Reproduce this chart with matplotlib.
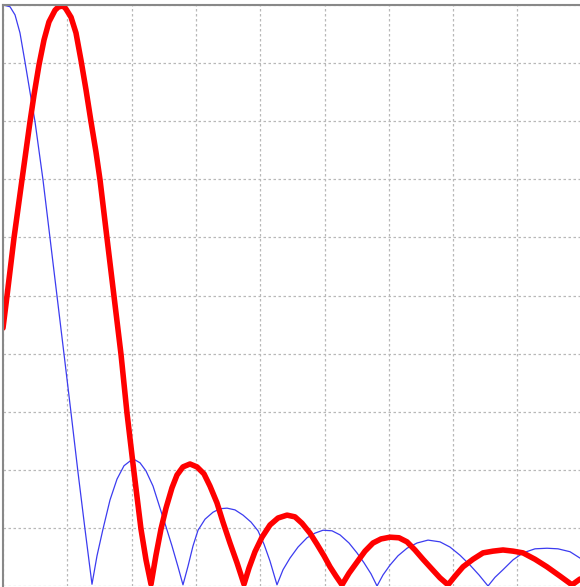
import matplotlib
matplotlib.use("Agg")
import matplotlib.pyplot as plt

# blue curve (thin)
blue_x = [0.000, 0.109, 0.187, 0.264, 0.342, 0.420, 0.498, 0.622, 0.731, 0.840, 0.949, 1.058, 1.166, 1.275, 1.384,
          1.462, 1.555, 1.664, 1.773, 1.882, 2.022, 2.131, 2.224, 2.333, 2.442, 2.535, 2.628, 2.722, 2.799,
          2.877, 2.955, 3.033, 3.142, 3.266, 3.375, 3.484, 3.608, 3.733, 3.857, 3.966, 4.059, 4.152, 4.261,
          4.355, 4.463, 4.588, 4.728, 4.852, 4.977, 5.117, 5.241, 5.381, 5.505, 5.614, 5.723, 5.817,
          5.910, 6.019, 6.143, 6.283, 6.439, 6.610, 6.796, 6.952, 7.107, 7.263, 7.403, 7.543,
          7.652, 7.776, 7.932, 8.087, 8.274, 8.460, 8.631, 8.818, 8.974]
blue_y = [1.000, 0.997, 0.983, 0.952, 0.902, 0.850, 0.799, 0.699, 0.599, 0.499, 0.399, 0.298, 0.196, 0.098, 0.003,
          0.052, 0.098, 0.148, 0.184, 0.207, 0.219, 0.212, 0.198, 0.172, 0.134, 0.102, 0.069, 0.033, 0.002,
          0.034, 0.069, 0.096, 0.115, 0.127, 0.133, 0.134, 0.131, 0.122, 0.110, 0.095, 0.072, 0.043, 0.002,
          0.028, 0.048, 0.067, 0.083, 0.091, 0.096, 0.095, 0.088, 0.074, 0.057, 0.040, 0.021, 0.000,
          0.019, 0.036, 0.052, 0.065, 0.074, 0.079, 0.076, 0.067, 0.053, 0.036, 0.019, 0.000,
          0.015, 0.028, 0.045, 0.057, 0.064, 0.065, 0.064, 0.059, 0.048]

# red curve (thick)
red_x = [0.000, 0.062, 0.171, 0.295, 0.420, 0.482, 0.560, 0.638, 0.715, 0.809, 0.855, 0.902,
         0.949, 0.980, 1.058, 1.135, 1.213, 1.291, 1.369, 1.446, 1.509, 1.617, 1.726, 1.835, 1.928, 2.037, 2.146, 2.224, 2.302,
         2.379, 2.457, 2.535, 2.628, 2.706, 2.799, 2.908, 3.017, 3.126, 3.219, 3.328, 3.421, 3.530, 3.639, 3.748,
         3.826, 3.919, 4.028, 4.152, 4.277, 4.417, 4.541, 4.650, 4.774, 4.883, 4.992, 5.086, 5.179, 5.272,
         5.381, 5.505, 5.630, 5.754, 5.879, 6.019, 6.159, 6.283, 6.407, 6.532, 6.672, 6.796, 6.921,
         7.030, 7.154, 7.309, 7.465, 7.621, 7.776, 7.932, 8.087, 8.274, 8.460, 8.663, 8.849, 8.974]
red_y = [0.444, 0.499, 0.599, 0.699, 0.799, 0.845, 0.897, 0.940, 0.971, 0.991, 0.996, 0.998,
         0.997, 0.993, 0.979, 0.952, 0.905, 0.854, 0.799, 0.747, 0.699, 0.599, 0.499, 0.399, 0.298, 0.196, 0.098, 0.045, 0.003,
         0.053, 0.098, 0.134, 0.169, 0.191, 0.205, 0.210, 0.205, 0.193, 0.172, 0.143, 0.110, 0.074, 0.040, 0.003,
         0.031, 0.059, 0.084, 0.105, 0.117, 0.122, 0.119, 0.108, 0.091, 0.072, 0.052, 0.033, 0.017, 0.002,
         0.022, 0.041, 0.060, 0.074, 0.081, 0.084, 0.083, 0.076, 0.062, 0.046, 0.029, 0.014, 0.002,
         0.017, 0.033, 0.046, 0.057, 0.060, 0.062, 0.060, 0.057, 0.046, 0.033, 0.017, 0.002, 0.012]

x_ticks = [0, 1, 2, 3, 4, 5, 6, 7, 8, 9]
y_ticks = [0.0, 0.1, 0.2, 0.3, 0.4, 0.5, 0.6, 0.7, 0.8, 0.9, 1.0]

fig = plt.figure(figsize=(5.8, 5.87), dpi=100)
ax = fig.add_axes([3 / 580, 1 / 587, 578.7 / 580, 581 / 587])

ax.plot(blue_x, blue_y, color="#3c3cf0", lw=0.9)
ax.plot(red_x, red_y, color="#ff0000", lw=4.0, solid_capstyle="round", solid_joinstyle="round")

ax.set_xlim(0, 9)
ax.set_ylim(0, 1)
ax.set_xticks(x_ticks)
ax.set_yticks(y_ticks)
ax.tick_params(length=0, labelbottom=False, labelleft=False)
ax.grid(True, color="#b8b8b8", linestyle=(0, (2, 2)), linewidth=0.9)
ax.set_axisbelow(True)

for s in ["bottom", "right"]:
    ax.spines[s].set_visible(False)
for s in ["left", "top"]:
    ax.spines[s].set_color("#888888")
    ax.spines[s].set_linewidth(1.5)

plt.savefig("out.png", dpi=100)
